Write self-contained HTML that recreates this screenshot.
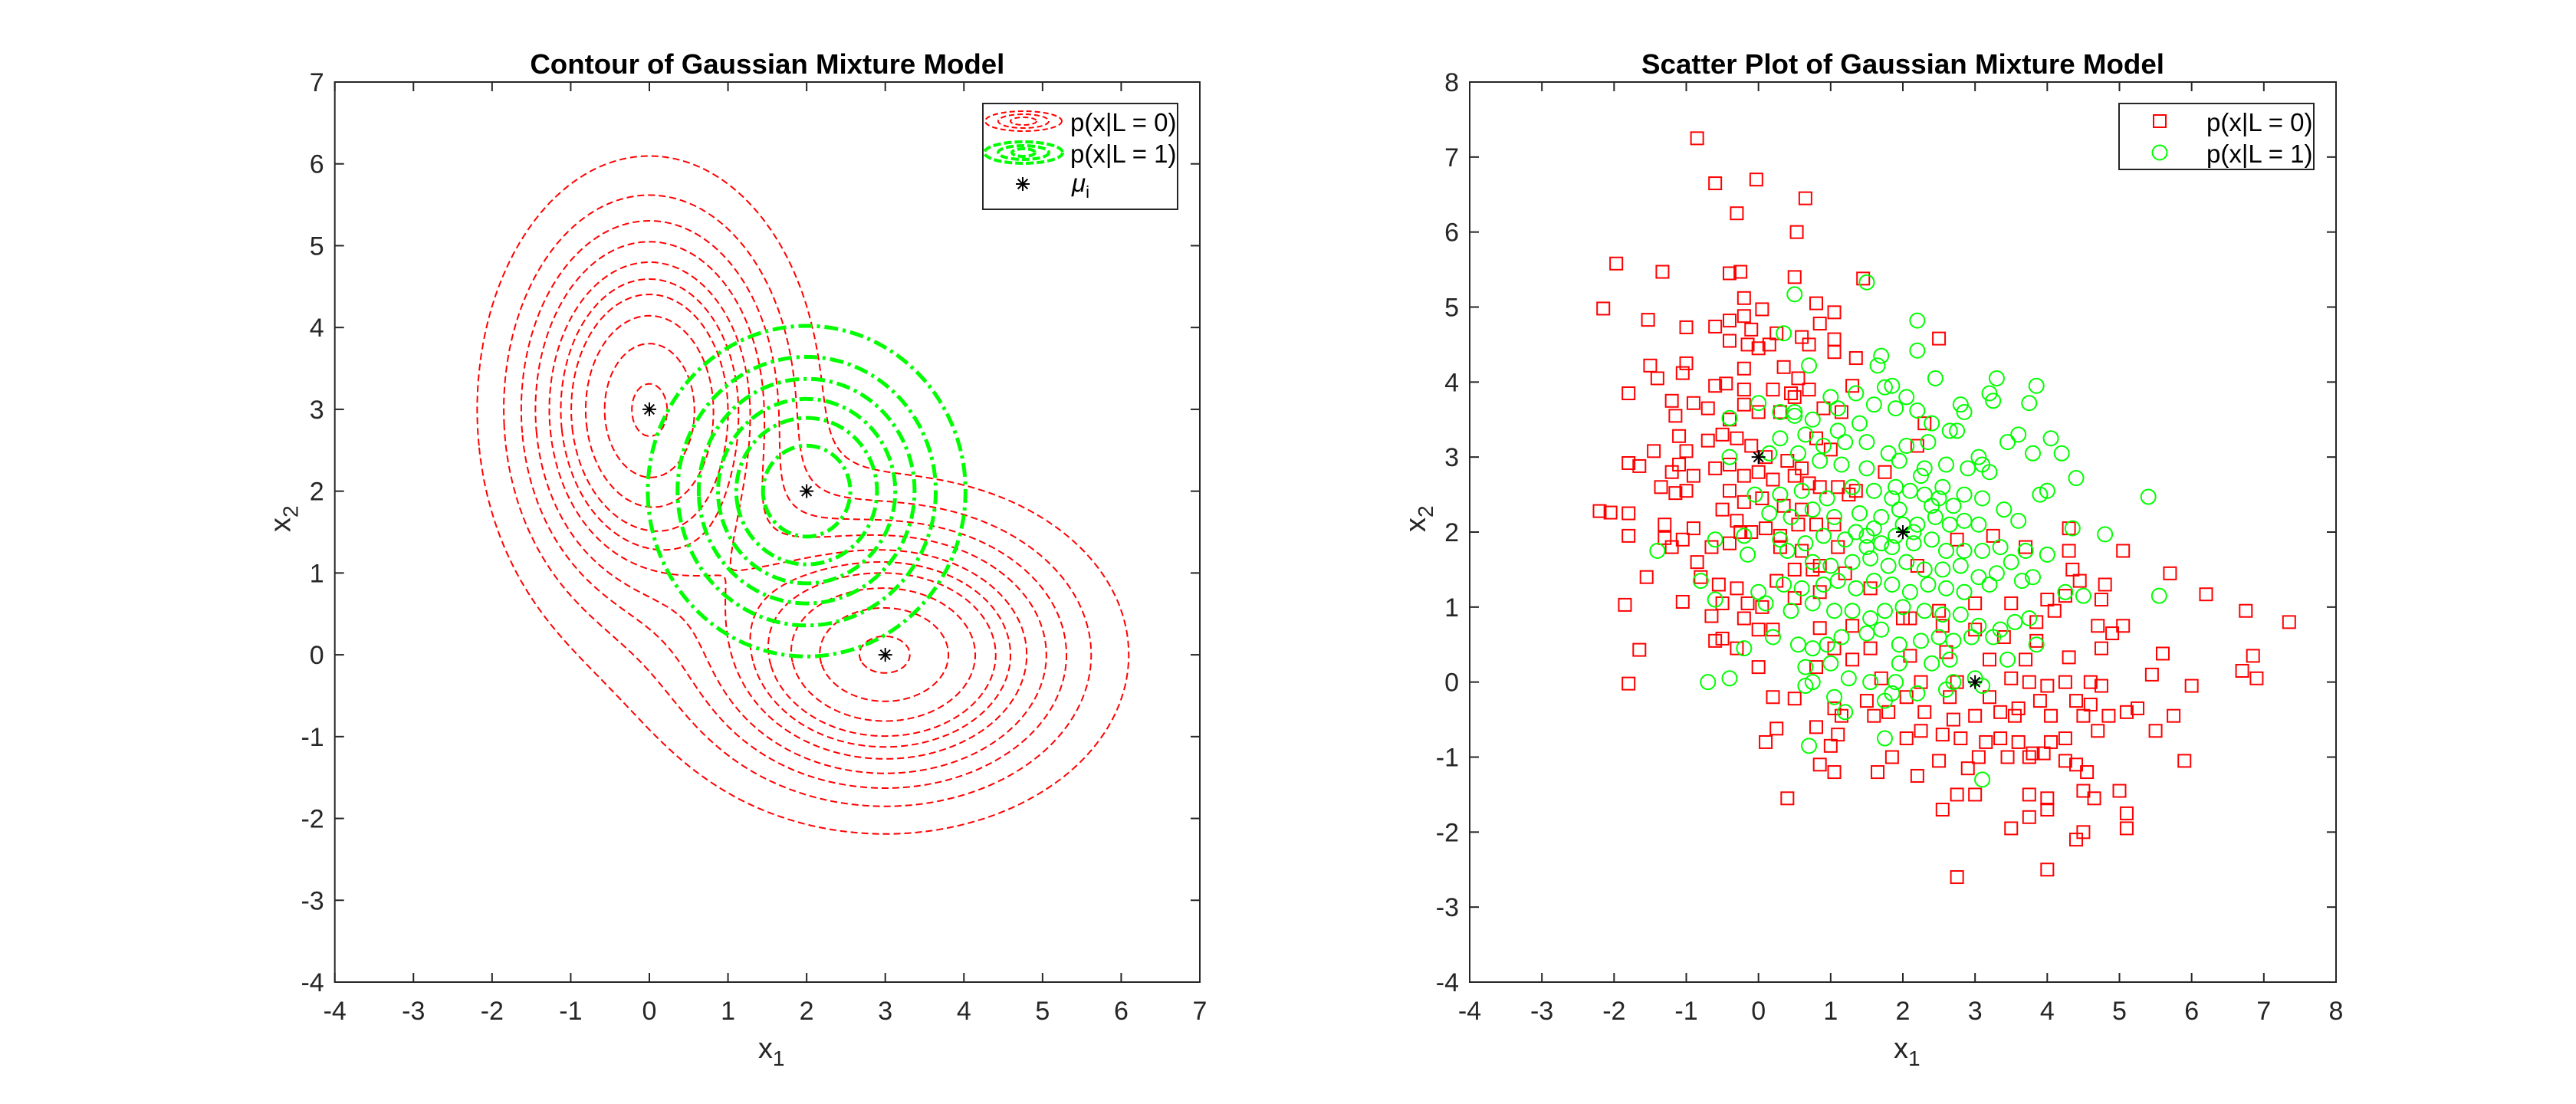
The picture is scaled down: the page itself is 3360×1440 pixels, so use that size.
<!DOCTYPE html>
<html><head><meta charset="utf-8"><style>
body{margin:0;background:#fff;}
svg{display:block;font-family:"Liberation Sans",sans-serif;}
</style></head><body>
<svg id="fig" width="3360" height="1440" viewBox="0 0 3360 1440" xmlns="http://www.w3.org/2000/svg">
<rect width="3360" height="1440" fill="#fff"/>
<g id="left"></g>
<g id="right"></g>
</svg>
<script>
// ---- contour model data ----
const redMeans = [[0,3],[3,0]];
const redCovs = [[1,2],[2,1]];          // diagonal variances
const redLevelFrac = [0.091,0.18,0.265,0.35,0.445,0.53,0.61,0.72,0.85,0.975];
const greenMean = [2,2];
const greenCov = [1,1];
const greenLevelFrac = [0.13,0.26,0.39,0.53,0.67,0.857];
const contourMeans = [[0,3],[2,2],[3,0]];
const leftXTicks = [-4,-3,-2,-1,0,1,2,3,4,5,6,7];
const leftYTicks = [-4,-3,-2,-1,0,1,2,3,4,5,6,7];

// ---- scatter data ----
const redPts = [[-0.85,7.25],[-0.6,6.65],[-0.03,6.7],[0.65,6.45],[-0.3,6.25],[0.53,6.0],[-1.97,5.58],[-1.33,5.47],[-0.4,5.45],[-0.25,5.47],[0.5,5.4],[1.45,5.38],[-2.15,4.98],[-0.2,5.12],[0.05,4.97],[0.8,5.05],[1.05,4.93],[-1.53,4.83],[-1.0,4.73],[-0.6,4.74],[-0.4,4.82],[-0.2,4.88],[-0.1,4.7],[0.25,4.65],[0.6,4.6],[0.85,4.78],[1.05,4.57],[2.5,4.58],[-0.4,4.55],[-0.15,4.5],[0.0,4.45],[0.15,4.5],[0.7,4.5],[1.05,4.4],[1.35,4.32],[-1.5,4.22],[-1.4,4.05],[-1.05,4.12],[-1.0,4.25],[-0.2,4.18],[0.35,4.2],[0.55,4.05],[-1.2,3.75],[-0.9,3.72],[-0.6,3.95],[-0.45,3.98],[-0.2,3.9],[0.2,3.9],[0.45,3.85],[0.7,3.9],[1.3,3.95],[-1.8,3.85],[-1.15,3.55],[-0.7,3.65],[-0.4,3.5],[-0.2,3.7],[0.0,3.6],[0.3,3.6],[0.5,3.8],[0.9,3.65],[1.15,3.6],[-1.45,3.08],[-1.1,3.28],[-1.0,3.08],[-0.7,3.22],[-0.5,3.3],[-0.3,3.25],[-0.1,3.15],[0.1,3.0],[0.4,2.95],[0.6,2.85],[0.8,3.25],[1.0,3.1],[-1.8,2.92],[-1.65,2.88],[-1.2,2.8],[-1.1,2.9],[-0.9,2.75],[-0.6,2.85],[-0.4,2.9],[-0.2,2.75],[0.0,2.8],[0.2,2.7],[0.5,2.75],[0.7,2.65],[1.1,2.6],[1.35,2.55],[1.75,2.8],[2.2,3.15],[2.3,3.45],[-1.35,2.6],[-1.15,2.52],[-1.0,2.55],[-0.4,2.55],[-0.2,2.4],[0.05,2.45],[0.35,2.35],[0.6,2.3],[0.85,2.6],[1.25,2.5],[-2.2,2.28],[-2.05,2.26],[-1.8,2.25],[-1.3,2.1],[-0.9,2.05],[-0.5,2.3],[-0.3,2.15],[-0.1,2.0],[0.1,2.05],[0.3,1.95],[0.55,2.1],[0.8,2.1],[1.05,2.1],[4.3,2.05],[-1.8,1.95],[-1.3,1.92],[-1.2,1.8],[-1.05,1.9],[-0.85,1.6],[-0.65,1.8],[-0.4,1.85],[-0.25,2.0],[0.3,1.8],[0.6,1.75],[0.85,1.55],[1.1,1.8],[2.75,1.9],[3.25,1.95],[3.7,1.8],[4.3,1.75],[5.05,1.75],[-1.55,1.4],[-0.8,1.4],[-0.55,1.3],[-0.3,1.25],[0.25,1.35],[0.5,1.5],[0.75,1.5],[1.2,1.45],[2.2,1.55],[4.35,1.5],[4.45,1.35],[4.8,1.3],[5.7,1.45],[-1.85,1.03],[-1.05,1.07],[-0.5,1.05],[-0.15,1.05],[0.05,1.0],[0.5,1.12],[0.85,1.2],[1.55,1.25],[2.1,0.85],[2.5,0.95],[3.0,1.05],[3.5,1.05],[4.0,1.1],[4.25,1.15],[4.75,1.1],[6.2,1.17],[6.75,0.95],[7.35,0.8],[-0.65,0.88],[-0.2,0.85],[0.0,0.7],[0.2,0.7],[0.85,0.72],[1.3,0.75],[2.0,0.85],[2.55,0.75],[3.0,0.7],[3.4,0.6],[3.85,0.8],[4.1,0.95],[4.7,0.75],[5.05,0.75],[4.9,0.65],[-1.65,0.43],[-0.6,0.55],[-0.5,0.58],[-0.3,0.45],[0.8,0.2],[1.05,0.45],[1.3,0.3],[1.55,0.45],[2.1,0.35],[2.6,0.4],[3.2,0.3],[3.7,0.3],[3.85,0.55],[4.3,0.33],[4.75,0.45],[5.6,0.38],[-1.8,-0.02],[0.0,0.2],[1.7,0.05],[2.25,0.0],[2.75,0.0],[3.5,0.05],[3.75,0.0],[4.0,-0.05],[4.25,0.0],[4.6,0.0],[4.75,-0.05],[5.45,0.1],[6.0,-0.05],[6.7,0.15],[6.85,0.35],[6.9,0.05],[0.2,-0.2],[0.5,-0.22],[1.5,-0.25],[2.05,-0.2],[2.65,-0.2],[3.2,-0.2],[3.6,-0.35],[3.9,-0.25],[4.4,-0.25],[4.6,-0.3],[5.25,-0.35],[5.75,-0.45],[0.8,-0.6],[1.05,-0.35],[1.15,-0.45],[1.6,-0.45],[1.8,-0.4],[2.3,-0.4],[2.7,-0.5],[3.0,-0.45],[3.35,-0.4],[3.55,-0.45],[4.05,-0.45],[4.5,-0.45],[4.85,-0.45],[5.1,-0.4],[0.1,-0.8],[0.25,-0.62],[1.1,-0.7],[1.0,-0.85],[2.05,-0.75],[2.25,-0.65],[2.55,-0.7],[2.8,-0.75],[3.15,-0.8],[3.35,-0.75],[3.6,-0.8],[3.8,-0.95],[3.95,-0.95],[4.25,-0.75],[4.05,-0.8],[4.7,-0.65],[5.5,-0.65],[0.85,-1.1],[1.05,-1.2],[1.65,-1.2],[1.85,-1.0],[2.2,-1.25],[2.5,-1.05],[2.9,-1.15],[3.05,-1.0],[3.45,-1.0],[3.75,-1.0],[4.25,-1.05],[4.4,-1.1],[4.55,-1.2],[5.9,-1.05],[0.4,-1.55],[2.55,-1.7],[2.75,-1.5],[3.0,-1.5],[3.75,-1.5],[4.0,-1.55],[4.5,-1.45],[4.65,-1.55],[5.0,-1.45],[5.1,-1.75],[3.5,-1.95],[3.75,-1.8],[4.0,-1.7],[4.4,-2.1],[4.5,-2.0],[5.1,-1.95],[4.0,-2.5],[2.75,-2.6]];
const greenPts = [[1.5,5.33],[0.5,5.17],[2.2,4.82],[2.2,4.42],[1.7,4.35],[1.65,4.22],[0.7,4.22],[0.35,4.65],[2.45,4.05],[3.3,4.05],[3.85,3.95],[3.2,3.85],[1.75,3.93],[1.0,3.8],[1.35,3.85],[1.6,3.7],[1.9,3.65],[2.2,3.62],[2.8,3.7],[2.85,3.6],[3.25,3.75],[3.75,3.72],[0.0,3.72],[0.3,3.6],[0.5,3.55],[0.75,3.5],[1.1,3.35],[1.4,3.45],[2.4,3.45],[2.65,3.35],[3.6,3.3],[3.45,3.2],[4.05,3.25],[0.3,3.25],[0.65,3.3],[0.9,3.15],[1.2,3.2],[1.5,3.2],[1.8,3.05],[2.05,3.15],[2.35,3.2],[2.75,3.35],[3.05,3.0],[3.8,3.05],[4.2,3.05],[-0.4,3.52],[-0.4,3.0],[0.15,3.05],[0.55,3.05],[0.85,2.95],[1.15,2.9],[1.5,2.85],[1.95,2.95],[2.3,2.85],[2.6,2.9],[2.9,2.85],[3.1,2.9],[3.2,2.8],[4.4,2.72],[5.4,2.47],[-0.05,2.5],[0.3,2.5],[0.6,2.55],[0.95,2.45],[1.3,2.6],[1.6,2.55],[1.85,2.45],[2.1,2.55],[2.3,2.5],[2.5,2.45],[2.7,2.35],[2.85,2.5],[3.1,2.45],[3.4,2.3],[3.9,2.5],[4.0,2.55],[0.15,2.25],[0.45,2.2],[0.75,2.3],[1.05,2.2],[1.4,2.25],[1.7,2.2],[1.95,2.3],[2.2,2.1],[2.45,2.2],[2.65,2.1],[2.85,2.15],[3.05,2.1],[3.6,2.15],[4.35,2.05],[4.8,1.97],[-0.6,1.9],[-0.2,1.95],[0.3,1.9],[0.65,1.85],[0.9,1.95],[1.2,1.9],[1.5,1.95],[1.7,1.85],[1.9,1.95],[2.15,1.85],[2.4,1.9],[2.6,1.75],[2.85,1.75],[3.1,1.75],[3.35,1.8],[3.7,1.75],[4.0,1.7],[-1.4,1.75],[-0.15,1.7],[0.4,1.75],[0.75,1.6],[1.0,1.55],[1.3,1.6],[1.55,1.65],[1.8,1.55],[2.05,1.6],[2.3,1.5],[2.55,1.5],[2.8,1.55],[3.05,1.4],[3.3,1.45],[3.5,1.6],[3.8,1.4],[-0.8,1.35],[0.0,1.2],[0.35,1.3],[0.6,1.25],[0.9,1.3],[1.1,1.35],[1.35,1.25],[1.6,1.35],[1.85,1.3],[2.1,1.2],[2.35,1.3],[2.6,1.25],[2.85,1.2],[3.2,1.3],[3.65,1.35],[4.25,1.2],[4.5,1.15],[5.55,1.15],[-0.6,1.1],[0.1,1.05],[0.45,0.95],[0.75,1.05],[1.05,0.95],[1.3,0.95],[1.55,0.85],[1.75,0.95],[2.0,1.0],[2.3,0.95],[2.55,0.9],[2.8,0.9],[3.05,0.75],[3.35,0.7],[3.55,0.8],[3.75,0.85],[0.2,0.6],[0.55,0.5],[0.75,0.45],[0.95,0.5],[1.15,0.6],[1.5,0.65],[1.7,0.7],[1.95,0.5],[2.25,0.55],[2.5,0.6],[2.7,0.55],[2.95,0.6],[3.25,0.6],[3.85,0.5],[-0.2,0.45],[0.65,0.2],[1.0,0.25],[1.25,0.05],[1.95,0.25],[2.4,0.25],[2.65,0.3],[3.0,0.05],[3.45,0.3],[-0.7,0.0],[-0.4,0.05],[0.75,0.0],[1.55,0.0],[1.9,0.0],[2.7,0.0],[3.1,-0.05],[0.65,-0.05],[1.05,-0.2],[1.75,-0.25],[2.2,-0.15],[2.6,-0.1],[1.85,-0.15],[1.2,-0.4],[0.7,-0.85],[1.75,-0.75],[3.1,-1.3],[1.85,1.8],[2.0,2.1],[1.6,2.05],[2.15,2.0],[1.5,1.8],[1.35,2.0],[2.4,2.35],[2.55,2.6],[1.9,2.6],[2.25,2.75],[0.5,3.6],[1.1,3.65],[2.05,3.8],[1.85,3.95]];
const scatterMeans = [[0,3],[2,2],[3,0]];
const rightXTicks = [-4,-3,-2,-1,0,1,2,3,4,5,6,7,8];
const rightYTicks = [-4,-3,-2,-1,0,1,2,3,4,5,6,7,8];

const NS = "http://www.w3.org/2000/svg";
function mk(tag, attrs, parent){ const e=document.createElementNS(NS,tag); for(const k in attrs) e.setAttribute(k,attrs[k]); if(parent) parent.appendChild(e); return e; }

function makeAxes(g, X0,X1,Y0,Y1, xmin,xmax,ymin,ymax, xt,yt, title, titleLen){
  const sx = v => X0 + (v-xmin)/(xmax-xmin)*(X1-X0);
  const sy = v => Y1 - (v-ymin)/(ymax-ymin)*(Y1-Y0);
  const ticks = mk('g',{stroke:'#262626','stroke-width':2},g);
   
  xt.forEach(v=>{ const x=sx(v);
    mk('line',{x1:x,y1:Y1,x2:x,y2:Y1-12},ticks); mk('line',{x1:x,y1:Y0,x2:x,y2:Y0+12},ticks);
    const t=mk('text',{x:x,y:1330,'font-size':34,'text-anchor':'middle',fill:'#262626'},g); t.textContent=v;
     
  });
  yt.forEach(v=>{ const y=sy(v);
    mk('line',{x1:X0,y1:y,x2:X0+12,y2:y},ticks); mk('line',{x1:X1,y1:y,x2:X1-12,y2:y},ticks);
    const t=mk('text',{x:X0-14,y:y+12,'font-size':34,'text-anchor':'end',fill:'#262626'},g); t.textContent=v;
     
  });
  const tt=mk('text',{x:(X0+X1)/2,y:96,'font-size':36,'font-weight':'bold','text-anchor':'middle',fill:'#000',textLength:titleLen,lengthAdjust:'spacingAndGlyphs'},g);
  tt.textContent=title;  
  const xl=mk('text',{x:(X0+X1)/2-12,y:1380,'font-size':38,fill:'#262626'},g);
  xl.innerHTML='x<tspan font-size="28" dy="10">1</tspan>';
   
  const cy=(Y0+Y1)/2, lx=X0-70;
  const yl=mk('text',{x:lx,y:cy+12,'font-size':38,fill:'#262626',transform:`rotate(-90 ${lx} ${cy})`},g);
  yl.innerHTML='x<tspan font-size="28" dy="10">2</tspan>';
   
  return {sx,sy,frame:()=>{const r=mk('rect',{x:X0,y:Y0,width:X1-X0,height:Y1-Y0,fill:'none',stroke:'#262626','stroke-width':2},g);}};
}

function star(g,x,y,r){
  const s=mk('g',{stroke:'#000','stroke-width':2},g);
   
  for(let k=0;k<4;k++){const a=k*Math.PI/4; mk('line',{x1:x-r*Math.cos(a),y1:y-r*Math.sin(a),x2:x+r*Math.cos(a),y2:y+r*Math.sin(a)},s);}
}

function gauss(x,y,m,c){ const dx=x-m[0],dy=y-m[1]; return Math.exp(-0.5*(dx*dx/c[0]+dy*dy/c[1]))/(2*Math.PI*Math.sqrt(c[0]*c[1])); }
function contourPaths(f, level, xmin,xmax,ymin,ymax,N, sx,sy){
  const dx=(xmax-xmin)/N, dy=(ymax-ymin)/N;
  const V=[]; for(let i=0;i<=N;i++){V[i]=[];for(let j=0;j<=N;j++)V[i][j]=f(xmin+i*dx,ymin+j*dy)-level;}
  const pt={}, adj={};
  function ep(key){ if(pt[key])return; const p=key.split(','); const t=p[0],i=+p[1],j=+p[2];
    if(t==='h'){const a=V[i][j],b=V[i+1][j],s=a/(a-b); pt[key]=[xmin+(i+s)*dx,ymin+j*dy];}
    else {const a=V[i][j],b=V[i][j+1],s=a/(a-b); pt[key]=[xmin+i*dx,ymin+(j+s)*dy];} }
  function link(a,b){ ep(a);ep(b); (adj[a]=adj[a]||[]).push(b); (adj[b]=adj[b]||[]).push(a); }
  for(let i=0;i<N;i++)for(let j=0;j<N;j++){
    const c0=V[i][j]>0,c1=V[i+1][j]>0,c2=V[i+1][j+1]>0,c3=V[i][j+1]>0;
    const e=[]; const B='h,'+i+','+j, R='v,'+(i+1)+','+j, T='h,'+i+','+(j+1), L='v,'+i+','+j;
    if(c0!==c1)e.push(B); if(c1!==c2)e.push(R); if(c2!==c3)e.push(T); if(c3!==c0)e.push(L);
    if(e.length===2)link(e[0],e[1]); else if(e.length===4){link(B,R);link(T,L);}
  }
  const seen={}, paths=[];
  for(const k in adj){ if(seen[k])continue;
    let start=k; const chain=[start]; seen[start]=true; let cur=start;
    while(true){ const nx=(adj[cur]||[]).find(n=>!seen[n]); if(!nx)break; seen[nx]=true; chain.push(nx); cur=nx; }
    cur=start; const back=[];
    while(true){ const nx=(adj[cur]||[]).find(n=>!seen[n]); if(!nx)break; seen[nx]=true; back.push(nx); cur=nx; }
    const full=back.reverse().concat(chain);
    const closed=(adj[full[0]]||[]).includes(full[full.length-1]) && full.length>2;
    let d=full.map((q,n)=>(n?'L':'M')+sx(pt[q][0]).toFixed(1)+' '+sy(pt[q][1]).toFixed(1)).join('');
    if(closed)d+='Z'; paths.push(d);
  }
  return paths;
}

(function(){
  const g=document.getElementById('left');
  const A=makeAxes(g,436.7,1565,107,1281,-4,7,-4,7,leftXTicks,leftYTicks,'Contour of Gaussian Mixture Model',619);
  const fr=(x,y)=>0.5*gauss(x,y,redMeans[0],redCovs[0])+0.5*gauss(x,y,redMeans[1],redCovs[1]);
  const peakR=fr(0,3);
  const fg=(x,y)=>gauss(x,y,greenMean,greenCov);
  const peakG=fg(2,2);
  const rg=mk('g',{fill:'none',stroke:'#ff0000','stroke-width':2,'stroke-dasharray':'9 5'},g);
   
  redLevelFrac.forEach(l=>{ contourPaths(fr,l*peakR,-4,7,-4,7,240,A.sx,A.sy).forEach(d=>{const p=mk('path',{d},rg);}); });
  const gg=mk('g',{fill:'none',stroke:'#00ff00','stroke-width':5,'stroke-dasharray':'18 6 4 6'},g);
   
  greenLevelFrac.forEach(l=>{ contourPaths(fg,l*peakG,-4,7,-4,7,240,A.sx,A.sy).forEach(d=>{const p=mk('path',{d},gg);}); });
  contourMeans.forEach(m=>star(g,A.sx(m[0]),A.sy(m[1]),9));
  A.frame();
  const lg=mk('g',{},g);  
  mk('rect',{x:1282,y:135,width:254,height:138,fill:'#fff',stroke:'#262626','stroke-width':2},lg);
  const e1=mk('g',{fill:'none',stroke:'#f00','stroke-width':2,'stroke-dasharray':'7 4'},lg);
   
  [[50,13],[33,9],[17,5]].forEach(r=>mk('ellipse',{cx:1335,cy:158,rx:r[0],ry:r[1]},e1));
  const e2=mk('g',{fill:'none',stroke:'#0f0','stroke-width':4,'stroke-dasharray':'10 4'},lg);
   
  [[51,14],[33,9],[15,5]].forEach(r=>mk('ellipse',{cx:1335,cy:199,rx:r[0],ry:r[1]},e2));
  star(lg,1334,240,9);
  [['p(x|L = 0)',171],['p(x|L = 1)',212]].forEach(t=>{const tx=mk('text',{x:1396,y:t[1],'font-size':33,fill:'#000'},lg);tx.textContent=t[0];});
  const mu=mk('text',{x:1398,y:250,'font-size':33,'font-style':'italic',fill:'#000'},lg);
  mu.innerHTML='μ<tspan font-size="22" dy="8" font-style="normal">i</tspan>';
   
})();

(function(){
  const g=document.getElementById('right');
  const A=makeAxes(g,1917,3047,107,1281,-4,8,-4,8,rightXTicks,rightYTicks,'Scatter Plot of Gaussian Mixture Model',682);
  const rs=mk('g',{fill:'none',stroke:'#ff0000','stroke-width':2},g);
   
  redPts.forEach(p=>{const r=mk('rect',{x:A.sx(p[0])-8,y:A.sy(p[1])-8,width:16,height:16},rs);});
  const gs=mk('g',{fill:'none',stroke:'#00ff00','stroke-width':2},g);
   
  greenPts.forEach(p=>{const c=mk('circle',{cx:A.sx(p[0]),cy:A.sy(p[1]),r:9.5},gs);});
  scatterMeans.forEach(m=>star(g,A.sx(m[0]),A.sy(m[1]),9));
  A.frame();
  const lg=mk('g',{},g);  
  mk('rect',{x:2764,y:135,width:254,height:86,fill:'#fff',stroke:'#262626','stroke-width':2},lg);
  const s=mk('rect',{x:2809,y:150,width:16,height:16,fill:'none',stroke:'#f00','stroke-width':2},lg);
   
  const c=mk('circle',{cx:2817,cy:199,r:9.5,fill:'none',stroke:'#0f0','stroke-width':2},lg);
   
  [['p(x|L = 0)',171],['p(x|L = 1)',212]].forEach(t=>{const tx=mk('text',{x:2878,y:t[1],'font-size':33,fill:'#000'},lg);tx.textContent=t[0];});
})();
</script>
</body></html>
